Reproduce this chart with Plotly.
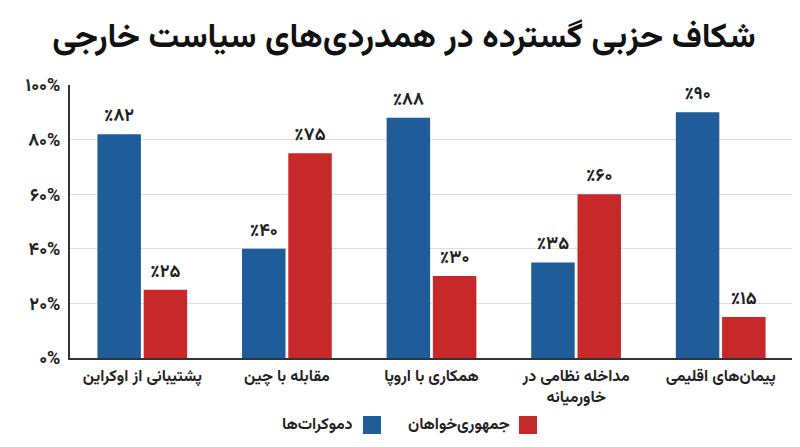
import plotly.graph_objects as go

categories = ["پشتیبانی از اوکراین", "مقابله با چین", "همکاری با اروپا",
              "مداخله نظامی در<br>خاورمیانه", "پیمان‌های اقلیمی"]
democrats = [82, 40, 88, 35, 90]
republicans = [25, 75, 30, 60, 15]
dem_labels = ["٪۸۲", "٪۴۰", "٪۸۸", "٪۳۵", "٪۹۰"]
rep_labels = ["٪۲۵", "٪۷۵", "٪۳۰", "٪۶۰", "٪۱۵"]
y_ticks = [0, 20, 40, 60, 80, 100]
y_tick_labels = ["۰%", "۲۰%", "۴۰%", "۶۰%", "۸۰%", "۱۰۰%"]
series_names = ["دموکرات‌ها", "جمهوری‌خواهان"]
title_text = "شکاف حزبی گسترده در همدردی‌های سیاست خارجی"

BLUE = "#1f5c9a"
RED = "#c7292b"
FONT = "Vazirmatn, Noto Sans Arabic, DejaVu Sans, sans-serif"

# page has an 8px body margin: work in figure coordinates = page - 8
OFF = 8
W, H = 800 - OFF, 447 - OFF
L = 70 - OFF
R = W - (793 - OFF)
T = 85 - OFF
B = H - (358 - OFF)
pw, ph = W - L - R, H - T - B

def px(x):
    return (x - OFF - L) / pw

def py(y):
    return (H - B - (y - OFF)) / ph

fig = go.Figure()
fig.add_trace(go.Bar(x=categories, y=democrats, name=series_names[0],
                     marker=dict(color=BLUE, line=dict(width=0)),
                     text=dem_labels, textposition="outside",
                     textfont=dict(size=18, color="#222", family=FONT, weight="bold"),
                     cliponaxis=False))
fig.add_trace(go.Bar(x=categories, y=republicans, name=series_names[1],
                     marker=dict(color=RED, line=dict(width=0)),
                     text=rep_labels, textposition="outside",
                     textfont=dict(size=18, color="#222", family=FONT, weight="bold"),
                     cliponaxis=False))

shapes = []
annotations = []
legend_items = [(series_names[0], BLUE, 355, 363), (series_names[1], RED, 512, 519)]
for name, col, text_right, sq_left in legend_items:
    shapes.append(dict(type="rect", xref="paper", yref="paper",
                       x0=px(sq_left), x1=px(sq_left + 18),
                       y0=py(434), y1=py(416),
                       fillcolor=col, line=dict(width=0)))
    annotations.append(dict(text=name, xref="paper", yref="paper",
                            x=px(text_right), y=py(425), xanchor="right", yanchor="middle",
                            showarrow=False,
                            font=dict(size=16, color="#222", family=FONT, weight="bold")))

fig.update_layout(
    width=W, height=H,
    margin=dict(l=L, r=R, t=T, b=B, autoexpand=False),
    paper_bgcolor="white", plot_bgcolor="white",
    barmode="group", bargap=0.36, bargroupgap=0.06,
    showlegend=False,
    font=dict(family=FONT, color="#222"),
    title=dict(text=title_text, x=0.5, xanchor="center", y=1 - (35 - OFF) / H, yanchor="middle",
               font=dict(size=34, color="#111", family=FONT, weight="bold")),
    xaxis=dict(showline=True, linecolor="#333", linewidth=2, ticks="", automargin=False,
               tickfont=dict(size=16, color="#222", family=FONT, weight="bold"),
               ticklabelstandoff=2, showgrid=False),
    yaxis=dict(range=[0, 100], tickvals=y_ticks, ticktext=y_tick_labels, automargin=False,
               showline=True, linecolor="#333", linewidth=2,
               gridcolor="#dddddd", gridwidth=1, zeroline=False, ticks="",
               ticklabelstandoff=4,
               tickfont=dict(size=18, color="#222", family=FONT, weight="bold")),
    shapes=shapes, annotations=annotations,
)

fig.write_html("out.html")
